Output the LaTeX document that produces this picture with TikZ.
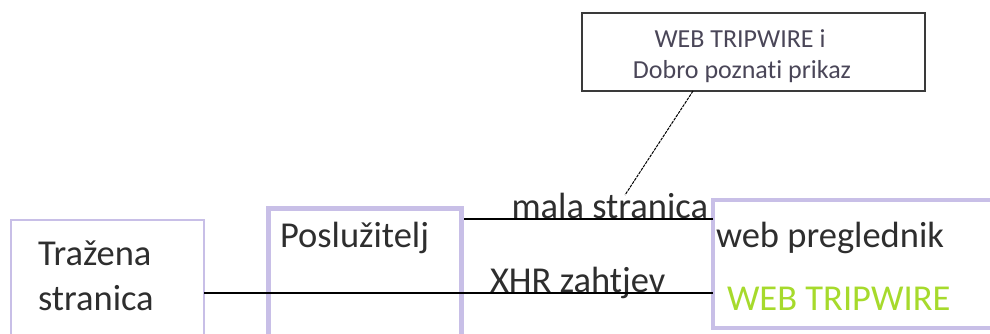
\documentclass[tikz,border=0pt]{standalone}
\usepackage{fontspec}
\setmainfont{Carlito}[Ligatures={NoCommon}]
\definecolor{lav}{HTML}{C8BFE7}
\definecolor{tripgreen}{HTML}{A6DA2C}
\definecolor{txt}{HTML}{2E2E2E}
\definecolor{calltxt}{HTML}{4A4658}
\definecolor{callborder}{HTML}{3A3A3A}
\begin{document}
\begin{tikzpicture}[x=1pt,y=-1pt,
  every node/.style={inner sep=0pt, outer sep=0pt},
  big/.style={font=\fontsize{36.5}{42}\selectfont, text=txt, anchor=base west},
  small/.style={font=\fontsize{26}{30}\selectfont, text=calltxt, anchor=base},
  lavbox/.style={draw=lav, anchor=north west},
  conn/.style={draw=black, line width=1.4pt}]
\useasboundingbox (0,0) rectangle (990,333);
\clip (0,0) rectangle (990,333);
% boxes
\node[lavbox, line width=1.5pt, minimum width=193pt, minimum height=150pt] (trazena) at (11,220) {};
\node[lavbox, line width=5pt, minimum width=193pt, minimum height=150pt] (posl) at (268,208) {};
\node[lavbox, line width=4pt, minimum width=400pt, minimum height=128pt] (web) at (713,200) {};
\node[draw=callborder, line width=2pt, anchor=north west, minimum width=343pt, minimum height=78pt] (callout) at (582,13) {};
% texts
\node[big] (t1) at (38,265) {Tražena};
\node[big] (t2) at (38,310) {stranica};
\node[big] (pos) at (280,247) {Poslužitelj};
\node[big] (wp) at (716,247) {web preglednik};
\node[big, text=tripgreen] (wt) at (727,310) {WEB TRIPWIRE};
\node[small] (c1) at (740,47) {WEB TRIPWIRE i};
\node[small] (c2) at (742,78) {Dobro poznati prikaz};
\node[big, anchor=base east] (mala) at (708,218) {mala stranica};
\node[big] (xhr) at (490,292) {XHR zahtjev};
% connectors
\coordinate (malay) at (0,219);
\coordinate (xhry) at (0,293);
\draw[conn] ([xshift=3pt]posl.east |- malay) -- (web.west |- malay);
\draw[conn] (trazena.east |- xhry) -- (web.west |- xhry);
\coordinate (cstart) at ([xshift=111pt]callout.south west);
\coordinate (cend) at (625,195);
\draw[black, line width=1pt, dash pattern=on 3pt off 1pt] (cstart) -- (cend);
\end{tikzpicture}
\end{document}
